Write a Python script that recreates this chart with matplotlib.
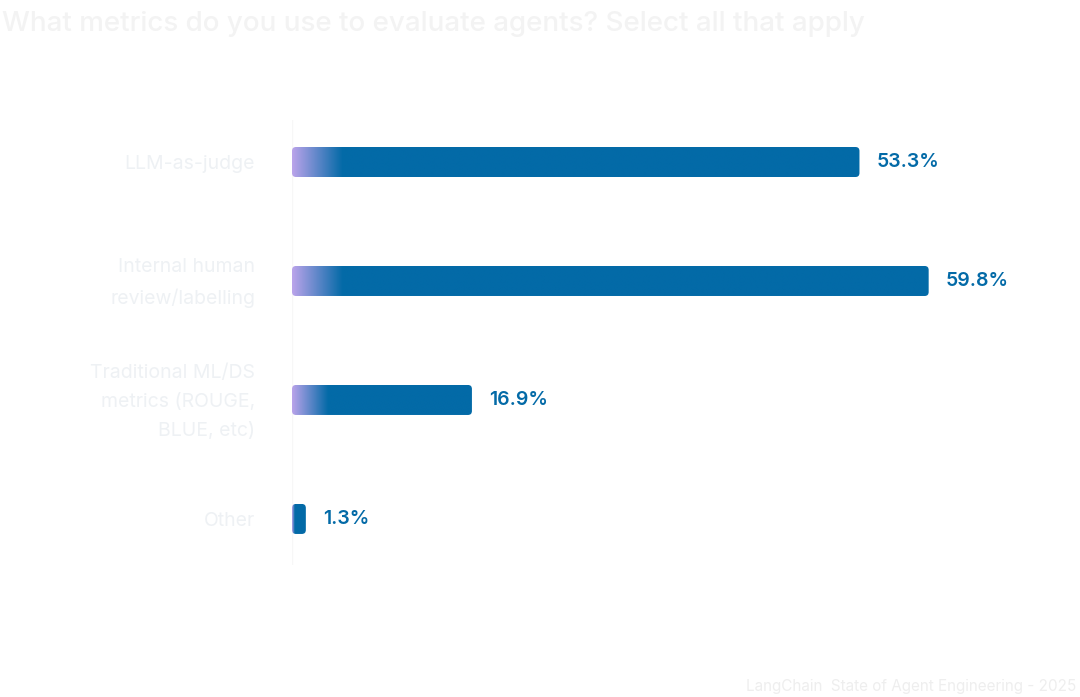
import matplotlib
matplotlib.use("Agg")
import matplotlib.pyplot as plt
import numpy as np
from matplotlib.patches import FancyBboxPatch
from matplotlib.colors import to_rgb

categories = ["LLM-as-judge", "Internal human\nreview/labelling",
              "Traditional ML/DS\nmetrics (ROUGE,\nBLUE, etc)", "Other"]
values = [53.3, 59.8, 16.9, 1.3]
value_labels = ["53.3%", "59.8%", "16.9%", "1.3%"]

plt.rcParams['font.family'] = ['Inter', 'DejaVu Sans']
W, H = 1080, 697
fig = plt.figure(figsize=(10.8, 6.97), dpi=100)
fig.patch.set_facecolor('white')

x0, x1, ytop, ybot = 292, 1000, 120, 565
ax = fig.add_axes([x0 / W, 1 - ybot / H, (x1 - x0) / W, (ybot - ytop) / H])
xmax = 66.5
ax.set_xlim(0, xmax)
ax.set_ylim(3.387, -0.353)
ax.axis('off')
ax.axvline(0, color='#f7f7f7', lw=1)

ux = xmax / (x1 - x0)   # x units per px
uy = 1 / 119            # y units per px
blue = np.array(to_rgb('#036aa7'))
lav = np.array(to_rgb('#b9a3ea'))
h = 30 * uy
for i, (v, lab) in enumerate(zip(values, value_labels)):
    patch = FancyBboxPatch((0, i - h / 2), v, h,
                           boxstyle=f"round,pad=0,rounding_size={4*ux}",
                           mutation_aspect=uy / ux, fc='none', ec='none')
    ax.add_patch(patch)
    gw = min(50 * ux, 0.2 * v)
    xs = np.linspace(0, v, 400)
    t = np.clip(xs / gw, 0, 1)[:, None]
    cols = lav * (1 - t) + blue * t
    img = ax.imshow(cols[None, :, :], extent=(0, v, i + h / 2, i - h / 2),
                    aspect='auto', interpolation='bilinear', zorder=2)
    img.set_clip_path(patch)
    ax.text(v + 17 * ux, i, lab, va='center', ha='left', fontsize=14,
            color='#036aa7', fontweight='semibold')
    ax.text(-37 * ux, i + 2 * uy, categories[i], va='center', ha='right', fontsize=14,
            color='#eef1f4', linespacing=1.8)

fig.text(2 / W, 1 - 24 / H, "What metrics do you use to evaluate agents? Select all that apply",
         fontsize=20, color='#f3f3f3', va='center', ha='left', fontweight='medium')
fig.text(1076 / W, 1 - 686 / H, "LangChain  State of Agent Engineering - 2025",
         fontsize=11, color='#eeeeee', va='center', ha='right')
fig.savefig('out.png', dpi=100, facecolor='white')
